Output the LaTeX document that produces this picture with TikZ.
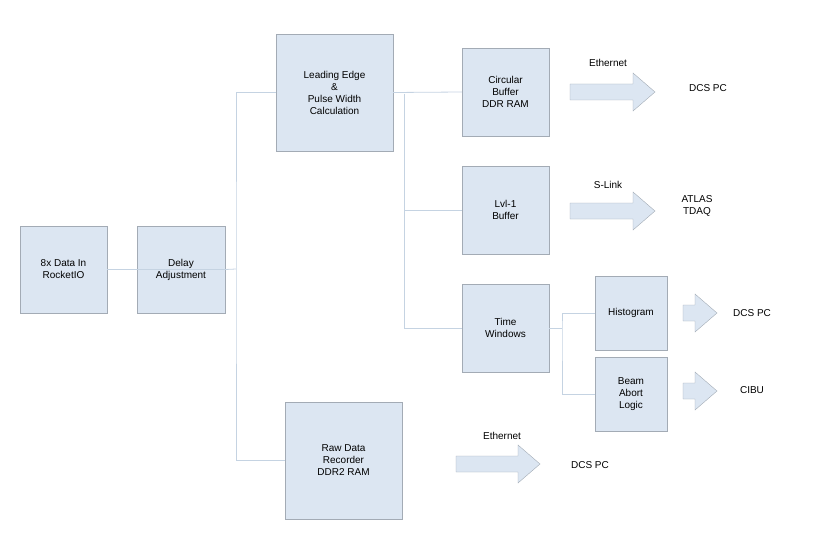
\documentclass[tikz,border=0pt]{standalone}
\usepackage{fontspec}
\setmainfont{Liberation Sans}
\definecolor{bfill}{HTML}{DCE6F2}
\definecolor{bdraw}{HTML}{A3ABB5}
\definecolor{lne}{HTML}{C5D3E2}
\newcommand\barrow[3]{% x1,x2,ymid
  \draw[bdraw,fill=bfill] (#1,#3-8)--(#2-22,#3-8)--(#2-22,#3-19)--(#2,#3)--(#2-22,#3+19)--(#2-22,#3+8)--(#1,#3+8)--cycle;}
\begin{document}
\begin{tikzpicture}[x=1pt,y=-1pt,
  box/.style={draw=bdraw,fill=bfill,align=center,font=\fontsize{10}{12}\selectfont,inner sep=0},
  lbl/.style={font=\fontsize{10}{12}\selectfont,align=center},
  ln/.style={draw=lne,line width=0.8pt}]
\useasboundingbox (0,0) rectangle (829,548);
\newcommand\bx[6]{\node[box,minimum width=#4-#2,minimum height=#5-#3] (#1) at ({(#2+#4)/2},{(#3+#5)/2}) {#6};}
\bx{din}{20}{226}{107}{313}{8x Data In\\RocketIO}
\bx{del}{137}{226}{225}{313}{Delay\\Adjustment}
\bx{le}{276}{34}{393}{151}{Leading Edge\\\&\\Pulse Width\\Calculation}
\bx{cb}{462}{48}{549}{136}{Circular\\Buffer\\DDR RAM}
\bx{l1}{462}{166}{549}{254}{Lvl-1\\Buffer}
\bx{tw}{462}{284}{549}{372}{Time\\Windows}
\bx{hi}{595}{276}{667}{350}{Histogram}
\bx{ba}{595}{357}{667}{431}{Beam\\Abort\\Logic}
\bx{raw}{285}{402}{402}{519}{Raw Data\\Recorder\\DDR2 RAM}
\coordinate (j1) at (236,269);
\coordinate (j2) at (404,94);
\coordinate (j3) at (562,328);
\draw[ln] (din.east)--(del.east);
\draw[ln] (del.east)--(j1);
\draw[ln] (le.west) -| (j1) |- (raw.west);
\draw[ln] (le.east)--(cb.west);
\draw[ln] (j2) |- (l1.west);
\draw[ln] (j2) |- (tw.west);
\draw[ln] (tw.east)--(j3);
\draw[ln] (hi.west) -| (j3) |- (ba.west);
\barrow{570}{655}{92}
\barrow{570}{655}{211}
\barrow{683}{717}{313}
\barrow{683}{717}{391}
\barrow{456}{540}{464}
\node[lbl] (t1) at (608,63) {Ethernet};
\node[lbl] (t2) at (708,88) {DCS PC};
\node[lbl] (t3) at (608,185) {S-Link};
\node[lbl] (t4) at (697,206) {ATLAS\\TDAQ};
\node[lbl] (t5) at (752,313) {DCS PC};
\node[lbl] (t6) at (752,390) {CIBU};
\node[lbl] (t7) at (502,436) {Ethernet};
\node[lbl] (t8) at (590,465) {DCS PC};
\end{tikzpicture}
\end{document}
